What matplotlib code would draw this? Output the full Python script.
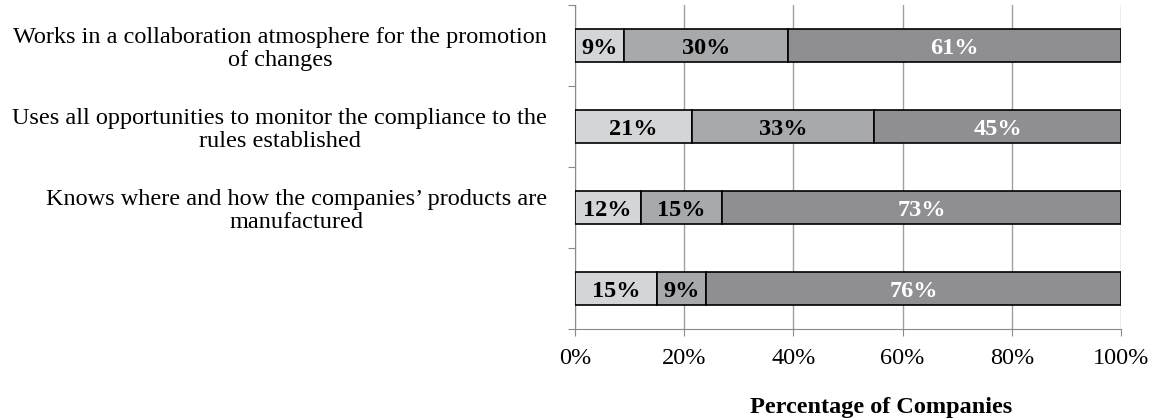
import numpy as np
import matplotlib.pyplot as plt
from matplotlib.ticker import PercentFormatter

plt.rcParams["font.family"] = ["Liberation Serif", "DejaVu Serif"]

# rows from top to bottom
statements = [
    "Works in a collaboration atmosphere for the promotion\nof changes",
    "Uses all opportunities to monitor the compliance to the\nrules established",
    "Knows where and how the companies\u2019 products are\nmanufactured",
    "",
]
low = [9, 21.4, 12, 15]
mid = [30, 33.3, 15, 9]
high = [61, 45.3, 73, 76]

colors = ["#d4d5d7", "#a8a9ab", "#8f8e92"]
text_colors = ["black", "black", "white"]

fig = plt.figure(figsize=(11.55, 4.19), dpi=100)
ax = fig.add_axes([0.4978, 0.2148, 0.4729, 0.7732])

y = np.arange(len(statements))
left = np.zeros(len(statements))
for vals, col, tcol in zip([low, mid, high], colors, text_colors):
    vals = np.array(vals, dtype=float)
    bars = ax.barh(y, vals, left=left, height=0.41, color=col,
                   edgecolor="black", linewidth=1.2, zorder=3)
    for bar, v in zip(bars, vals):
        ax.text(bar.get_x() + bar.get_width() / 2, bar.get_y() + bar.get_height() / 2,
                f"{v:.0f}%", ha="center", va="center_baseline", fontsize=17.5,
                fontweight="bold", color=tcol, zorder=4)
    left += vals

ax.set_xlim(0, 100)
ax.set_ylim(len(statements) - 0.5, -0.5)
ax.xaxis.set_major_formatter(PercentFormatter(decimals=0))
ax.set_xticks(np.arange(0, 101, 20))
ax.tick_params(axis="x", labelsize=17.5, length=5, color="#8a8a8a", pad=9)

# category boundaries as major ticks, labels on minor ticks
ax.set_yticks(np.arange(-0.5, len(statements), 1.0))
ax.set_yticklabels([])
ax.tick_params(axis="y", which="major", length=5, color="#8a8a8a")
ax.set_yticks(y, minor=True)
ax.set_yticklabels(statements, minor=True, fontsize=17.5,
                   multialignment="center", linespacing=1.15)
ax.tick_params(axis="y", which="minor", length=0, pad=20)

ax.grid(True, axis="x", color="#a0a0a0", linewidth=1.0, zorder=0)
ax.set_axisbelow(True)
for side in ["top", "right"]:
    ax.spines[side].set_visible(False)
for side in ["left", "bottom"]:
    ax.spines[side].set_color("#8a8a8a")

ax.set_xlabel("Percentage of Companies", fontsize=17.5, fontweight="bold",
              labelpad=20, x=0.56)

plt.savefig("out.png", dpi=100)
